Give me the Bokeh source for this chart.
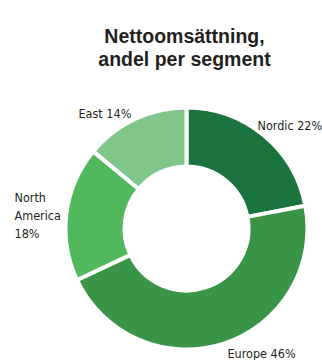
import numpy as np
from bokeh.plotting import figure
from bokeh.models import Range1d, ColumnDataSource
from bokeh.core.properties import value
from bokeh.embed import file_html
from bokeh.resources import INLINE

# ---- data ----
segments = ["Nordic", "Europe", "North America", "East"]
shares = [22, 46, 18, 14]
colors = ["#1b733d", "#3a9448", "#52b85e", "#80c68b"]
title_lines = ["Nettoomsättning,", "andel per segment"]

# ---- layout (picture pixel positions) ----
W, H = 322, 360
def dx(px):
    return px
def dy(py):
    return H - py

CX, CY = 186, 228          # donut centre
R_OUT, R_IN = 121, 62
# label anchor (left x, first-line baseline y), per segment
label_pos = [(257, 125), (227, 353), (14, 197), (78, 113)]
LINE_STEP = 18
LABEL_FONT = "'DejaVu Sans Condensed', 'Roboto', sans-serif"

frac = np.array(shares, dtype=float) / sum(shares)
cum = np.concatenate([[0.0], np.cumsum(frac)])
start = np.pi / 2 - 2 * np.pi * cum[:-1]
end = np.pi / 2 - 2 * np.pi * cum[1:]

wedges = ColumnDataSource(dict(start=start, end=end, color=colors))

p = figure(width=W, height=H, output_backend="svg", toolbar_location=None,
           x_range=Range1d(0, W), y_range=Range1d(0, H),
           x_axis_type=None, y_axis_type=None, min_border=0,
           outline_line_color=None)
p.grid.visible = False
p.background_fill_color = "white"
p.border_fill_color = "white"

p.annular_wedge(x=dx(CX), y=dy(CY), inner_radius=R_IN, outer_radius=R_OUT,
                start_angle="start", end_angle="end", direction="clock",
                fill_color="color", line_color="white", line_width=4,
                source=wedges)

# labels
lx, ly, lt = [], [], []
for seg, sh, (px, py) in zip(segments, shares, label_pos):
    if seg == "North America":
        lines = ["North", "America", f"{sh}%"]
    else:
        lines = [f"{seg} {sh}%"]
    for i, line in enumerate(lines):
        lx.append(dx(px))
        ly.append(dy(py + i * LINE_STEP))
        lt.append(line)
p.text(x=lx, y=ly, text=lt, text_font=value(LABEL_FONT),
       text_font_size="12.5px", text_color="#231f20",
       text_align="left", text_baseline="alphabetic")

# title
p.text(x=[dx(184), dx(184)], y=[dy(35), dy(58)], text=title_lines,
       text_font=value("Liberation Sans"), text_font_style="bold",
       text_font_size="19.5px", text_color="#231f20",
       text_align="center", text_baseline="alphabetic")

open("out.html", "w").write(file_html(p, INLINE))
